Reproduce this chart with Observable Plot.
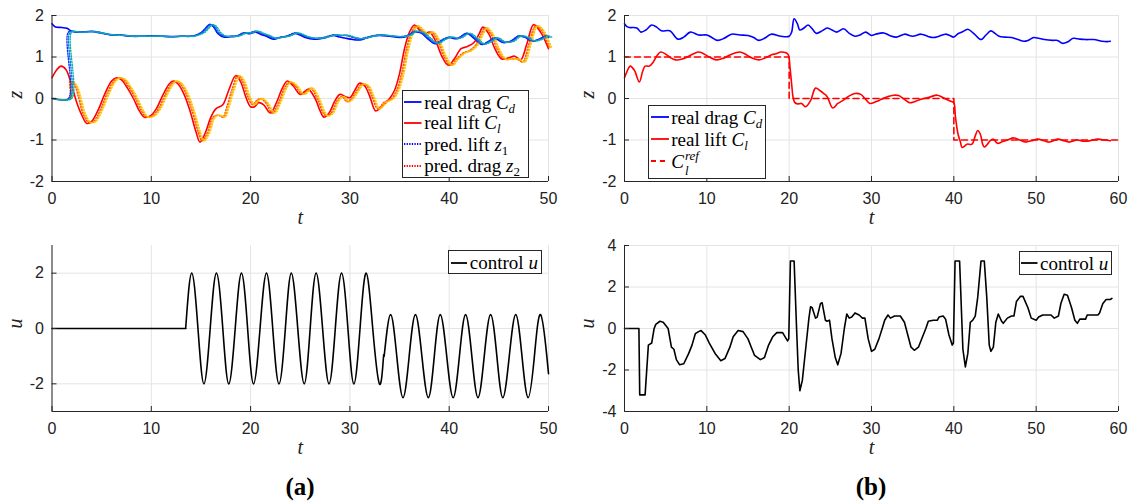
<!DOCTYPE html>
<html><head><meta charset="utf-8">
<script src="https://cdn.jsdelivr.net/npm/d3@7"></script>
<script src="https://cdn.jsdelivr.net/npm/@observablehq/plot@0.6"></script>
<style>
body{margin:0;background:#fff}
#wrap{position:relative;width:1133px;height:501px;overflow:hidden;background:#fff}
.pl{position:absolute}
.leg{position:absolute;border:1px solid #262626;background:#fff;box-sizing:border-box;font-family:"Liberation Serif","Times New Roman",serif;font-size:19px;color:#000}
.row{position:absolute;left:1.5px;height:22px;display:flex;align-items:center;white-space:nowrap;line-height:1}
.row svg{margin-right:2.5px;flex:none}
.row sub{font-size:0.68em;vertical-align:-0.3em;line-height:0}
.ss{position:relative;display:inline-block;width:24px;height:0;font-style:italic}
.ss span{position:absolute;left:1px;font-size:13px;line-height:13px}
.ss .sup{top:-19px}
.ss .sub{top:-4px}
.plab{position:absolute;font-family:"Liberation Serif","Times New Roman",serif;font-weight:bold;font-size:25px;transform:translate(-50%,-50%);white-space:nowrap}
</style></head><body><div id="wrap"></div>
<script>
// ---------- Panel (a), top: real and predicted drag / lift ----------
const aDragT = [0,0.3,1,1.5,2,2.5,3,4,5,6,7,8,9,10,11,12,13,14,14.6,15.1,15.5,15.9,16.3,16.7,17.3,18,18.6,19.3,19.8,20.5,21,21.6,22.3,23,23.7,24.5,25.5,26.4,27.3,28.3,29,29.6,30.3,31,31.6,32.3,33,34,35,35.8,36.5,37.2,37.8,38.6,39.3,40,40.8,41.8,42.5,43.3,44,44.6,45.4,46.2,47,47.6,48.3,49,49.7,50];
const aDragV = [1.8,1.73,1.71,1.69,1.62,1.6,1.6,1.62,1.58,1.53,1.53,1.5,1.5,1.51,1.5,1.49,1.5,1.5,1.53,1.6,1.7,1.79,1.72,1.57,1.48,1.49,1.5,1.58,1.56,1.6,1.55,1.5,1.43,1.47,1.5,1.57,1.47,1.43,1.45,1.52,1.48,1.45,1.42,1.41,1.45,1.5,1.52,1.5,1.47,1.5,1.6,1.58,1.45,1.32,1.4,1.47,1.44,1.57,1.45,1.3,1.38,1.45,1.35,1.38,1.5,1.48,1.38,1.42,1.5,1.47];
const aLiftT = [0,0.5,0.9,1.4,2,2.5,3,3.5,4,4.7,5.3,6,6.5,7,7.6,8.2,8.8,9.3,9.9,10.5,11.2,11.8,12.2,12.7,13.3,13.9,14.5,14.9,15.4,16,16.5,17.2,17.8,18.5,19,19.5,20,20.4,20.8,21.3,22,22.6,23.2,23.7,24.3,25,25.8,26.5,27,27.4,27.9,28.5,29,29.5,30,30.5,31,31.5,32,32.6,33.2,34,34.5,35,35.5,36,36.5,37,37.5,38,38.6,39.3,39.9,40.5,41.2,41.8,42.5,43,43.4,44,44.6,45.3,46,46.6,47.2,47.8,48.5,49.2,50];
const aLiftV = [0.5,0.7,0.78,0.7,0.3,-0.1,-0.4,-0.6,-0.55,-0.25,0.1,0.42,0.5,0.45,0.25,0,-0.3,-0.45,-0.42,-0.25,0.1,0.35,0.42,0.35,0.1,-0.3,-0.8,-1.05,-0.85,-0.45,-0.25,-0.15,0.2,0.55,0.4,0.05,-0.2,-0.2,-0.1,-0.15,-0.35,-0.1,0.25,0.42,0.3,0.1,0.22,0,-0.3,-0.45,-0.35,-0.05,0.1,0.05,0.02,0.2,0.37,0.3,0.05,-0.3,-0.2,0,0.2,0.6,1.2,1.6,1.77,1.65,1.55,1.6,1.4,1.0,0.8,0.95,1.2,1.25,1.35,1.55,1.72,1.55,1.2,0.95,0.98,1.02,0.93,1.3,1.78,1.6,1.2];
const aPredDragT = [0,1.65,1.66,2.5,3,4,5,6,7,8,9,10,11,12,13,14,14.6,15.1,15.5,15.9,16.3,16.7,17.3,18,18.6,19.3,19.8,20.5,21,21.6,22.3,23,23.7,24.5,25.5,26.4,27.3,28.3,29,29.6,30.3,31,31.6,32.3,33,34,35,35.8,36.5,37.2,37.8,38.6,39.3,40,40.8,41.8,42.5,43.3,44,44.6,45.4,46.2,47,47.6,48.3,49,49.7,50];
const aPredDragV = [0,0,1.6,1.6,1.6,1.61,1.57,1.53,1.52,1.5,1.5,1.5,1.5,1.49,1.5,1.5,1.54,1.6,1.7,1.78,1.72,1.58,1.5,1.5,1.51,1.58,1.58,1.62,1.57,1.52,1.45,1.48,1.51,1.58,1.49,1.45,1.47,1.53,1.52,1.52,1.47,1.44,1.47,1.51,1.53,1.51,1.49,1.52,1.62,1.58,1.46,1.33,1.42,1.48,1.45,1.57,1.46,1.31,1.38,1.46,1.36,1.38,1.51,1.48,1.39,1.42,1.51,1.48];
const aPredLiftT = [0,1.65,1.7,2.2,2.6,3.0,3.6,4.1,4.8,5.4,6.1,6.6,7.1,7.7,8.3,8.9,9.4,10,10.6,11.3,11.9,12.3,12.8,13.4,14,14.6,15,15.5,16.1,16.6,17.1,17.5,18,18.6,19.1,19.6,20.1,20.5,20.9,21.4,22.1,22.7,23.3,23.8,24.4,25.1,25.9,26.6,27.1,27.5,28,28.6,29.1,29.6,30.1,30.6,31.1,31.6,32.1,32.7,33.3,34.1,34.6,35.1,35.6,36.1,36.6,37.1,37.6,38.1,38.7,39.4,40,40.6,41.3,41.9,42.6,43.1,43.5,44.1,44.7,45.4,46.1,46.7,47.3,47.9,48.6,49.3,50];
const aPredLiftV = [0,0,0.42,0.3,0,-0.35,-0.58,-0.55,-0.25,0.1,0.42,0.5,0.45,0.25,0,-0.3,-0.45,-0.42,-0.25,0.1,0.35,0.42,0.35,0.1,-0.3,-0.8,-1.02,-0.85,-0.45,-0.4,-0.45,-0.2,0.2,0.55,0.4,0.05,-0.15,-0.05,0,-0.1,-0.35,-0.1,0.25,0.4,0.3,0.1,0.25,0,-0.3,-0.42,-0.35,-0.05,0.05,-0.08,0.02,0.2,0.35,0.3,0.05,-0.25,-0.1,0,0.2,0.6,1.2,1.6,1.75,1.65,1.55,1.6,1.4,1.0,0.8,0.95,1.1,1.15,1.3,1.55,1.7,1.55,1.2,0.95,0.95,0.95,0.88,1.3,1.75,1.6,1.2];

// ---------- Panel (b), top: tracking of a lift reference ----------
const bDragT = [0,0.3,0.6,1.5,2,2.6,3.3,3.9,4.5,5.5,6.5,7.2,8,9,10,10.6,11.3,12.1,13,14,15,15.7,16.3,17,17.8,19,20,20.3,20.6,21,21.3,21.8,22.3,22.8,23.3,24,24.6,25.2,25.8,26.6,27.3,28,28.6,29.3,30,30.5,31.5,32.2,33,34,35,36,36.8,37.5,38.2,39,39.5,40,40.5,41,41.7,42.5,43.3,43.9,44.5,45,45.5,46.2,47,47.8,48.5,49,49.7,50.3,51,52,52.6,53.2,53.8,54.5,55.3,56,57,58,58.6,59];
const bDragV = [1.8,1.73,1.71,1.7,1.6,1.65,1.77,1.72,1.63,1.63,1.43,1.48,1.6,1.53,1.53,1.47,1.4,1.45,1.55,1.53,1.52,1.47,1.4,1.45,1.55,1.5,1.5,1.6,1.92,1.8,1.65,1.7,1.77,1.68,1.57,1.63,1.7,1.65,1.6,1.68,1.57,1.5,1.53,1.6,1.52,1.55,1.58,1.52,1.48,1.55,1.5,1.55,1.5,1.47,1.5,1.55,1.52,1.48,1.56,1.6,1.67,1.55,1.42,1.53,1.63,1.57,1.5,1.48,1.47,1.42,1.38,1.4,1.47,1.45,1.42,1.4,1.4,1.33,1.36,1.45,1.43,1.42,1.42,1.38,1.37,1.38];
const bLiftT = [0,0.3,0.7,1.2,1.8,2.2,2.5,3,3.5,4,4.4,5,5.6,6.2,7,7.8,8.4,9,9.6,10.3,11.2,12,12.8,13.5,14,14.6,15.4,16.3,17,17.8,18.4,19,19.6,19.9,20.1,20.3,20.5,20.7,21,21.5,22,22.6,23.2,23.8,24.2,24.6,25.3,25.9,26.5,27.2,28,28.7,29.2,29.8,30.5,31.2,32,32.7,33.3,34,34.6,35.3,36,37,38,38.6,39.2,39.8,40,40.2,40.5,40.8,41,41.3,41.6,42.2,42.6,42.9,43.2,43.5,43.7,44,44.4,44.8,45.3,45.8,46.5,47.3,48,48.7,49.4,50.2,51,51.6,52.6,53.4,54,55,55.8,56.5,57.5,58.3,59];
const bLiftV = [0.5,0.65,0.78,0.68,0.4,0.65,0.78,0.78,0.88,1.05,1.12,1.07,0.98,0.93,0.95,1.02,1.08,1.12,1.08,1.0,0.93,0.97,1.05,1.1,1.12,1.08,0.98,0.93,0.97,1.05,1.08,1.12,1.1,1.05,0.75,0.35,0,-0.1,-0.13,-0.12,-0.2,-0.05,0.25,0.18,0.12,0.05,-0.23,-0.12,-0.05,0.05,0.12,0.1,0,-0.12,-0.08,-0.02,0.05,0.08,0.07,-0.02,-0.1,-0.07,-0.02,0.03,0.08,0.03,-0.03,-0.08,-0.1,-0.45,-0.85,-1.05,-1.18,-1.15,-1.1,-1.1,-0.9,-0.77,-0.85,-1.1,-1.17,-1.12,-1.02,-0.98,-1.08,-1.05,-1.0,-0.95,-1.0,-1.05,-1.02,-0.98,-1.02,-1.05,-0.98,-1.02,-1.05,-1.0,-1.03,-1.02,-0.98,-1.0,-1.02];
const bRefT = [0,20,20,40,40,60];
const bRefV = [1,1,0,0,-1,-1];

// ---------- Panel (a), bottom: control u ----------
const uA0T = [0,13.46];
const uA0V = [0,0];
const uA1T = [13.46,14.07,14.7,15.3,15.93,16.56,17.2,17.8,18.45,19.08,19.7,20.3,20.95,21.6,22.23,22.86,23.5,24.1,24.75,25.4,26.0,26.6,27.25,27.9,28.53,29.16,29.8,30.4,31.02,31.64,32.3,32.97,33.4];
const uA1V = [0,2,0,-2,0,2,0,-2,0,2,0,-2,0,2,0,-2,0,2,0,-2,0,2,0,-2,0,2,0,-2,0,2,0,-2,-0.95];
const uA2T = [33.45,34.1,34.72,35.35,35.97,36.6,37.25,37.9,38.5,39.1,39.75,40.4,41.03,41.65,42.28,42.9,43.53,44.17,44.8,45.4,46.05,46.7,47.33,47.95,48.58,49.2,49.83,50];
const uA2V = [-1,0.5,-1,-2.5,-1,0.5,-1,-2.5,-1,0.5,-1,-2.5,-1,0.5,-1,-2.5,-1,0.5,-1,-2.5,-1,0.5,-1,-2.5,-1,0.5,-1,-1.63];

// ---------- Panel (b), bottom: control u ----------
const uBT = [0,1.75,1.85,2.5,2.9,3.3,3.6,3.8,4.3,4.7,5.3,5.7,6.0,6.3,6.7,7.2,7.8,8.2,8.6,9.0,9.3,9.8,10.3,11.0,11.7,12.2,12.8,13.2,13.8,14.4,15.0,15.4,15.8,16.5,17.0,17.5,18.0,18.5,19.2,19.8,19.95,20.15,20.6,20.9,21.1,21.3,21.6,22.0,22.4,22.6,22.8,23.2,23.4,23.8,24.0,24.4,24.6,24.9,25.2,25.6,25.9,26.3,26.7,27.0,27.3,27.6,28.0,28.5,28.9,29.2,29.6,30.0,30.4,30.9,31.3,31.6,32.0,32.3,32.8,33.5,34.0,34.4,34.8,35.2,35.7,36.2,36.6,36.9,37.5,38.0,38.2,38.7,39.0,39.4,39.8,39.95,40.15,40.7,41.1,41.4,41.7,42.0,42.3,42.6,42.9,43.3,43.7,44.0,44.3,44.5,44.8,45.1,45.4,45.8,46.0,46.5,47.0,47.3,47.6,48.1,48.4,49.0,49.4,50.0,50.3,50.8,51.8,52.2,52.7,53.0,53.4,53.8,54.3,54.7,55.0,55.3,56.0,56.2,57.5,57.7,58.1,58.5,59.0,59.2];
const uBV = [0,0,-3.2,-3.2,-0.8,-0.7,0,0.2,0.35,0.3,0,-0.9,-1.0,-1.5,-1.75,-1.7,-1.2,-0.8,-0.25,-0.15,-0.1,-0.3,-0.7,-1.2,-1.55,-1.45,-0.9,-0.4,-0.1,-0.15,-0.5,-0.9,-1.3,-1.5,-1.4,-0.8,-0.4,-0.2,-0.2,-0.6,-0.5,3.25,3.25,0,-2,-3.0,-2.5,-1,0.5,1.05,1.0,0.5,0.55,1.2,1.25,0.4,0.35,0.4,-0.5,-1.4,-1.75,-1.2,0,0.7,0.5,0.55,0.75,0.65,0.5,0.5,-0.5,-1.1,-1.0,-0.5,0,0.4,0.65,0.5,0.6,0.6,0.3,-0.3,-0.9,-1.05,-0.9,-0.4,0,0.35,0.4,0.4,0.55,0.6,0.45,-0.3,-0.8,-0.7,3.25,3.25,-1,-1.85,-1.2,0.3,0.4,0.6,1.5,3.25,3.25,1.5,-0.8,-1.1,-0.9,0.3,0.7,0.35,0.25,0.5,0.6,0.6,1.3,1.55,1.55,1.0,0.5,0.4,0.55,0.65,0.65,0.5,0.6,1.2,1.65,1.6,1.0,0.4,0.25,0.45,0.45,0.65,0.65,0.75,1.2,1.4,1.4,1.45];

// ---------- tick labels ----------
const xTicksA = [0,10,20,30,40,50];
const xTicksB = [0,10,20,30,40,50,60];
const zTicks = [-2,-1,0,1,2];
const uTicksA = [-2,0,2];
const uTicksB = [-4,-2,0,2,4];

const BLUE = "#0000ff", RED = "#ff0000";
const predBlues = ["#1030ff","#0080d8","#10b0b0"];
const predReds = ["#ff5000","#ff9a00","#ffc800"];

const wrap = document.getElementById("wrap");

function panel(pos, o) {
  const chart = Plot.plot({
    width: pos.w, height: pos.h,
    marginLeft: pos.mL, marginRight: pos.mR, marginTop: pos.mT, marginBottom: pos.mB,
    x: {domain: o.xd, label: null},
    y: {domain: o.yd, label: null},
    style: {fontFamily: '"Liberation Sans", Arial, Helvetica, sans-serif', fontSize: "16px", color: "#222", background: "transparent", overflow: "visible"},
    marks: [
      Plot.gridX(o.xt, {stroke: "#e4e4e4", strokeOpacity: 1, strokeWidth: 1}),
      Plot.gridY(o.yt, {stroke: "#e4e4e4", strokeOpacity: 1, strokeWidth: 1}),
      ...o.marks,
      Plot.ruleY([o.yd[0]], {stroke: "#262626", strokeWidth: 1}),
      Plot.ruleX([o.xd[0]], {stroke: "#262626", strokeWidth: 1}),
      Plot.axisX(o.xt, {tickSize: -5, tickPadding: 16, tickFormat: d => String(d), stroke: "#262626", label: null}),
      Plot.axisY(o.yt, {tickSize: -5, tickPadding: 13, tickFormat: d => String(d), stroke: "#262626", label: null}),
      Plot.text(["t"], {frameAnchor: "bottom", dy: 42, fontStyle: "italic", fontFamily: '"Liberation Serif", serif', fontSize: 20, fill: "#222"}),
      Plot.text([o.ylab], {frameAnchor: "left", dx: -36.5, rotate: -90, fontStyle: "italic", fontFamily: '"Liberation Serif", serif', fontSize: 20, fill: "#222"})
    ]
  });
  chart.classList.add("pl");
  chart.style.left = pos.x + "px";
  chart.style.top = pos.y + "px";
  wrap.appendChild(chart);
}

const ln = (T, V, opts) => Plot.line(T, {x: T, y: V, ...opts});

// (a) top
panel({x: 0, y: 0, w: 566, h: 232, mL: 51.5, mR: 18, mT: 15, mB: 51}, {
  xd: [0, 50], yd: [-2, 2], xt: xTicksA, yt: zTicks, ylab: "z",
  marks: [
    ln(aDragT, aDragV, {stroke: BLUE, strokeWidth: 1.6, curve: "catmull-rom"}),
    ln(aLiftT, aLiftV, {stroke: RED, strokeWidth: 1.6, curve: "catmull-rom"}),
    ...predReds.map((c, i) => ln(aPredLiftT, aPredLiftV, {stroke: c, strokeWidth: 1.4, strokeDasharray: "1.2,1.8", dx: 1 + i * 1.2, curve: "catmull-rom"})),
    ...predBlues.map((c, i) => ln(aPredDragT, aPredDragV, {stroke: c, strokeWidth: 1.4, strokeDasharray: "1.2,1.6", dx: i * 1.6, curve: "catmull-rom"}))
  ]
});

// (b) top
panel({x: 566, y: 0, w: 567, h: 232, mL: 58, mR: 15, mT: 15, mB: 51}, {
  xd: [0, 60], yd: [-2, 2], xt: xTicksB, yt: zTicks, ylab: "z",
  marks: [
    ln(bRefT, bRefV, {stroke: RED, strokeWidth: 1.6, strokeDasharray: "6,4"}),
    ln(bDragT, bDragV, {stroke: BLUE, strokeWidth: 1.6, curve: "catmull-rom"}),
    ln(bLiftT, bLiftV, {stroke: RED, strokeWidth: 1.6, curve: "catmull-rom"})
  ]
});

// (a) bottom
panel({x: 0, y: 232, w: 566, h: 230, mL: 51.5, mR: 18, mT: 13, mB: 51}, {
  xd: [0, 50], yd: [-3, 3], xt: xTicksA, yt: uTicksA, ylab: "u",
  marks: [
    ln(uA0T, uA0V, {stroke: "#000", strokeWidth: 1.6}),
    ln(uA1T, uA1V, {stroke: "#000", strokeWidth: 1.6, curve: "natural"}),
    ln(uA2T, uA2V, {stroke: "#000", strokeWidth: 1.6, curve: "natural"})
  ]
});

// (b) bottom
panel({x: 566, y: 232, w: 567, h: 230, mL: 58, mR: 15, mT: 13, mB: 51}, {
  xd: [0, 60], yd: [-4, 4], xt: xTicksB, yt: uTicksB, ylab: "u",
  marks: [
    ln(uBT, uBV, {stroke: "#000", strokeWidth: 1.6})
  ]
});

// ---------- legends ----------
function sample(color, dash, w) {
  return `<svg width="${w}" height="6"><line x1="0" y1="3" x2="${w}" y2="3" stroke="${color}" stroke-width="1.8" ${dash ? `stroke-dasharray="${dash}"` : ""}/></svg>`;
}
function legend(box, rows) {
  const d = document.createElement("div");
  d.className = "leg";
  Object.assign(d.style, {left: box.x + "px", top: box.y + "px", width: box.w + "px", height: box.h + "px"});
  d.innerHTML = rows.map(r => `<div class="row" style="top:${r.c - 11}px">${sample(r.color, r.dash, r.sw)}<span>${r.html}</span></div>`).join("");
  wrap.appendChild(d);
}
legend({x: 401.7, y: 90, w: 127.3, h: 88.3}, [
  {c: 11.2, color: BLUE, sw: 17.5, html: 'real drag <i>C</i><sub><i>d</i></sub>'},
  {c: 31.7, color: RED, sw: 17.5, html: 'real lift <i>C</i><sub><i>l</i></sub>'},
  {c: 53.3, color: BLUE, dash: "1.3,1.3", sw: 17.5, html: 'pred. lift <i>z</i><sub>1</sub>'},
  {c: 74.8, color: RED, dash: "1.3,1.3", sw: 17.5, html: 'pred. drag <i>z</i><sub>2</sub>'}
]);
legend({x: 648.3, y: 105, w: 117.4, h: 74}, [
  {c: 11.2, color: BLUE, sw: 18, html: 'real drag <i>C</i><sub><i>d</i></sub>'},
  {c: 33.3, color: RED, sw: 18, html: 'real lift <i>C</i><sub><i>l</i></sub>'},
  {c: 55, color: RED, dash: "5,4", sw: 18, html: '<i>C</i><span class="ss"><span class="sup">ref</span><span class="sub">l</span></span>'}
]);
legend({x: 448.3, y: 250, w: 93.4, h: 24.3}, [
  {c: 11.5, color: "#000", sw: 16.5, html: 'control <i>u</i>'}
]);
legend({x: 1018.6, y: 250.5, w: 93.4, h: 24}, [
  {c: 11.5, color: "#000", sw: 16.5, html: 'control <i>u</i>'}
]);

// ---------- panel labels ----------
[["(a)", 300], ["(b)", 871]].forEach(([s, x]) => {
  const d = document.createElement("div");
  d.className = "plab";
  d.textContent = s;
  d.style.left = x + "px";
  d.style.top = "487px";
  wrap.appendChild(d);
});
</script></body></html>
